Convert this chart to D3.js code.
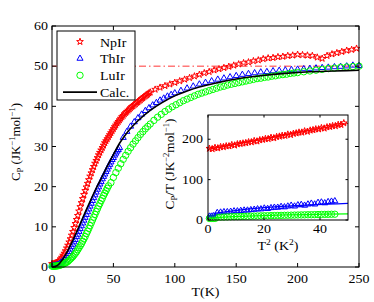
<!DOCTYPE html>
<html>
<head>
<meta charset="utf-8">
<script src="https://cdn.jsdelivr.net/npm/d3@7"></script>
<style>
  body { margin: 0; background: #fff; }
  svg text { font-family: "Liberation Serif", "DejaVu Serif", serif; font-size: 12.5px; fill: #000; }
</style>
</head>
<body>
<svg id="chart" width="374" height="302"></svg>
<script>
// ---------- data ----------

// NpIr, main plot : dense low-T part then sparse stars
let npirT  = [0,1,2,3,4,5,6,7,8,9,10,11,12,13,14,15,16,17,18,19,20,21,22,23,24,25,26,27,28,29,30,31,32,33,34,35,36,37,38,39,40,
              41,42,43,44,45,46,47,48,49,50,51,52,53,54,55,56,57,58,59,60,61,62,63,64,65,66,67,68,69,70,71,72,73,74,75,76,77,78,79,80,
              84,88,92,96,100,104,108,112,116,120,124,128,132,136,140,144,148,152,156,160,164,168,172,176,180,184,188,192,196,200,204,208,212,216,220,224,228,232,236,240,244,248];
let npirCp = [0.8,0.8,0.9,1.0,1.1,1.3,1.6,2.0,2.4,2.9,3.4,4.0,4.7,5.4,6.2,7.0,7.9,8.8,9.8,10.8,11.8,12.8,13.9,15.0,16.0,17.0,18.0,19.0,19.9,20.8,21.7,22.6,23.4,24.2,25.0,25.8,26.5,27.2,27.9,28.5,29.1,
              29.7,30.3,30.9,31.4,31.9,32.4,32.9,33.4,33.9,34.4,34.9,35.3,35.8,36.2,36.6,37.0,37.4,37.7,38.1,38.4,38.7,39.0,39.3,39.6,39.9,40.1,40.4,40.6,40.9,41.1,41.4,41.6,41.9,42.1,42.4,42.6,42.8,43.0,43.3,43.5,
              44.2,44.7,45.1,45.5,45.9,46.3,46.7,47.1,47.5,47.9,48.3,48.6,49.0,49.3,49.6,49.9,50.2,50.5,50.8,51.0,51.3,51.5,51.8,52.0,52.1,52.3,52.4,52.6,52.7,52.9,52.8,52.7,52.6,52.2,51.9,52.6,53.0,53.3,53.6,53.9,54.1,54.4];

// ThIr, main plot
let thirT  = [0,1,2,3,4,5,6,7,8,9,10,11,12,13,14,15,16,17,18,19,20,21,22,23,24,25,26,27,28,29,30,31,32,33,34,35,36,37,38,39,40,
              41,42,43,44,45,46,47,48,49,50,51,52,53,54,55,
              58,61,64,67,70,73,76,79,82,85,88,91,94,97,100,105,110,115,120,125,130,135,140,145,150,155,160,165,170,175,180,185,190,195,200,205,210,215,220,225,230,235,240,245,250];
let thirCp = [0.3,0.3,0.4,0.4,0.5,0.6,0.8,1.0,1.2,1.5,1.9,2.3,2.8,3.3,3.8,4.4,5.0,5.6,6.2,6.8,7.5,8.1,8.8,9.5,10.2,10.9,11.6,12.3,13.0,13.7,14.4,15.1,15.8,16.5,17.2,17.9,18.6,19.3,19.9,20.6,21.2,
              21.9,22.5,23.1,23.7,24.3,24.9,25.5,26.1,26.7,27.2,27.8,28.3,28.8,29.2,29.7,
              32.2,33.7,35.0,36.1,37.1,38.0,38.9,39.6,40.3,40.9,41.5,42.0,42.5,42.9,43.3,43.9,44.5,45.0,45.5,45.9,46.3,46.7,47.0,47.3,47.6,47.9,48.1,48.3,48.5,48.6,48.8,48.9,49.0,49.1,49.2,49.3,49.4,49.5,49.6,49.7,49.8,49.9,50.0,50.2,50.1];

// LuIr, main plot
let luirT  = [0,1,2,3,4,5,6,7,8,9,10,11,12,13,14,15,16,17,18,19,20,21,22,23,24,25,26,27,28,29,30,31,32,33,34,35,36,37,38,39,40,41,42,43,44,45,46,
              48,50,52,54,56,58,60,62,64,66,68,70,72,74,76,78,80,83,86,89,92,95,98,101,104,107,110,113,116,119,122,125,128,131,134,137,140,143,146,149,152,155,158,161,164,167,170,173,176,179,182,185,188,191,194,197,200,205,210,215,220,225,230,235,240,245,250];
let luirCp = [0.2,0.2,0.2,0.2,0.3,0.3,0.4,0.5,0.6,0.7,0.9,1.0,1.2,1.4,1.7,2.0,2.3,2.6,3.0,3.4,3.8,4.3,4.8,5.3,5.8,6.4,7.0,7.6,8.3,8.9,9.6,10.3,11.0,11.7,12.4,13.1,13.8,14.5,15.2,15.8,16.5,17.1,17.8,18.4,19.0,19.6,20.2,
              21.0,22.3,23.5,24.6,25.7,26.8,27.8,28.8,29.7,30.6,31.4,32.2,33.0,33.7,34.4,35.0,35.6,36.5,37.3,38.0,38.7,39.3,39.9,40.4,40.9,41.4,41.8,42.2,42.6,43.0,43.3,43.6,43.9,44.2,44.5,44.8,45.0,45.3,45.5,45.7,45.9,46.1,46.3,46.5,46.7,46.9,47.0,47.2,47.3,47.5,47.6,47.8,47.9,48.0,48.2,48.3,48.4,48.6,48.8,49.0,49.2,49.4,49.5,49.7,49.8,49.9,50.0];

// calculated curve
let calcT  = [0,4,8,12,16,20,24,28,32,36,40,45,50,55,60,70,80,90,100,110,120,135,150,170,190,210,230,250];
let calcCp = [0,0.3,1.6,3.6,6.0,8.7,11.5,14.3,17.0,19.6,22.0,25.1,28.0,30.8,33.0,36.4,39.0,41.0,42.6,43.8,44.8,45.9,46.8,47.6,48.2,48.6,48.8,49.0];

// Dulong-Petit level
let dulongPetit = 50;

// inset : Cp/T vs T^2
let insNpT2 = [0.5,1.5,2.5,3.5,4.5,5.5,6.5,7.5,8.5,9.5,10.5,11.5,12.5,13.5,14.5,15.5,16.5,17.5,18.5,19.5,20.5,21.5,22.5,23.5,24.5,
               25.5,26.5,27.5,28.5,29.5,30.5,31.5,32.5,33.5,34.5,35.5,36.5,37.5,38.5,39.5,40.5,41.5,42.5,43.5,44.5,45.5,46.5,47.5,48.5];
let insNpC  = [177,176,179,178,181,181,183,183,186,185,188,189,190,191,193,193,196,195,198,199,201,201,204,203,206,
               207,209,209,212,211,214,215,217,217,220,219,222,223,225,225,228,227,230,231,233,233,236,236,240];
let insThT2 = [0.5,1.2,1.9,2.6,3.3,4.5,5.7,6.9,8.1,9.3,10.5,11.7,12.9,14.1,15.3,16.5,17.7,18.9,20.1,21.3,22.5,23.7,24.9,26.1,27.3,28.5,29.7,30.9,32.1,33.3,34.5,35.7,36.9,38.1,39.3,40.5,41.7,42.9,44.1,45.3];
let insThC  = [9,9,10,10,18,19,20,20,21,22,22,23,24,24,25,26,27,27,29,28,30,31,31,33,32,34,36,34,37,38,36,39,41,39,43,44,42,45,46,47];
let insLuT2 = [0.5,1.2,1.9,2.6,3.3,4.5,5.7,6.9,8.1,9.3,10.5,11.7,12.9,14.1,15.3,16.5,17.7,18.9,20.1,21.3,22.5,23.7,24.9,26.1,27.3,28.5,29.7,30.9,32.1,33.3,34.5,35.7,36.9,38.1,39.3,40.5,41.7,42.9,44.1,45.3];
let insLuC  = [4,4,4,4,7,7.2,7.4,7.7,8,8.2,8.5,8.7,9,9.2,9.5,9.7,10,10.2,10.4,10.6,10.8,11,11.2,11.4,11.6,11.8,12,12.2,12.4,12.6,12.8,13,13.1,13.3,13.5,13.7,13.9,14,14.2,14.3];

// inset fit lines
let fitNpT2 = [0, 50];
let fitNpC  = [175, 239];
let fitThT2 = [0, 2.5, 2.8, 50];
let fitThC  = [10, 10, 17, 41];
let fitLuT2 = [0, 2.5, 2.8, 50];
let fitLuC  = [4, 4, 6, 15];

// ticks
let xTicks = [0, 50, 100, 150, 200, 250];
let yTicks = [0, 10, 20, 30, 40, 50, 60];
let insXTicks = [0, 20, 40];
let insYTicks = [0, 100, 200];

let legendLabels = ["NpIr", "ThIr", "LuIr", "Calc."];

// ---------- drawing ----------
let RED = "#ff0000", BLUE = "#0000ff", GREEN = "#00ff00";
let STRETCH = 1.12; // horizontal text looks a bit wider than the font

let svg = d3.select("#chart");

// main axes
let x = d3.scaleLinear().domain([0, 250]).range([52, 359]);
let y = d3.scaleLinear().domain([0, 60]).range([267, 26]);

// inset axes
let xi = d3.scaleLinear().domain([0, 50]).range([208, 348]);
let yi = d3.scaleLinear().domain([0, 260]).range([220, 115]);

function zipPts(a, b){ return a.map((v, i) => [v, b[i]]); }

let starSym = d3.symbol().type(d3.symbolStar).size(14);
let triSym  = d3.symbol().type(d3.symbolTriangle).size(16);
let circSym = d3.symbol().type(d3.symbolCircle).size(32);

function drawMarkers(g, pts, sx, sy, sym, color){
  g.append("g").selectAll("path")
    .data(pts)
    .join("path")
    .attr("d", sym)
    .attr("transform", d => `translate(${sx(d[0])},${sy(d[1])})`)
    .attr("fill", "none")
    .attr("stroke", color)
    .attr("stroke-width", 1);
}

function drawLine(g, pts, sx, sy, color, w){
  g.append("path")
    .datum(pts)
    .attr("d", d3.line().x(d => sx(d[0])).y(d => sy(d[1])).curve(d3.curveMonotoneX))
    .attr("fill", "none")
    .attr("stroke", color)
    .attr("stroke-width", w);
}

// horizontal text, slightly stretched
function hText(parent, px, py, anchor){
  return parent.append("text")
    .attr("transform", `translate(${px},${py}) scale(${STRETCH},1)`)
    .attr("text-anchor", anchor);
}

function drawBox(sx, sy, xt, yt, tick){
  let [x0, x1] = sx.range();
  let [y0, y1] = sy.range();
  let g = svg.append("g");
  g.append("rect")
    .attr("x", x0).attr("y", y1)
    .attr("width", x1 - x0).attr("height", y0 - y1)
    .attr("fill", "none").attr("stroke", "#000").attr("stroke-width", 1);
  xt.forEach(t => {
    g.append("line").attr("x1", sx(t)).attr("x2", sx(t)).attr("y1", y0).attr("y2", y0 - tick).attr("stroke", "#000");
    g.append("line").attr("x1", sx(t)).attr("x2", sx(t)).attr("y1", y1).attr("y2", y1 + tick).attr("stroke", "#000");
  });
  yt.forEach(t => {
    g.append("line").attr("x1", x0).attr("x2", x0 + tick).attr("y1", sy(t)).attr("y2", sy(t)).attr("stroke", "#000");
    g.append("line").attr("x1", x1).attr("x2", x1 - tick).attr("y1", sy(t)).attr("y2", sy(t)).attr("stroke", "#000");
  });
  return g;
}

// main plot content
let main = svg.append("g");

main.append("line")
  .attr("x1", x(0)).attr("x2", x(250))
  .attr("y1", y(dulongPetit)).attr("y2", y(dulongPetit))
  .attr("stroke", RED).attr("stroke-width", 0.8)
  .attr("stroke-dasharray", "7,3,1.5,3");

drawMarkers(main, zipPts(npirT, npirCp), x, y, starSym, RED);
drawMarkers(main, zipPts(thirT, thirCp), x, y, triSym, BLUE);
drawMarkers(main, zipPts(luirT, luirCp), x, y, circSym, GREEN);
drawLine(main, zipPts(calcT, calcCp), x, y, "#000", 1.6);

let mainBox = drawBox(x, y, xTicks, yTicks, 4);

xTicks.forEach(t => hText(mainBox, x(t), 283, "middle").text(t));
yTicks.forEach(t => hText(mainBox, 48, y(t) + 4, "end").text(t));

hText(svg, 205.5, 296, "middle").text("T(K)");

let yl = svg.append("text")
  .attr("transform", "translate(20,142) rotate(-90)")
  .attr("text-anchor", "middle")
  .style("font-size", "13px");
yl.append("tspan").text("C");
yl.append("tspan").attr("font-size", "8.5px").attr("dy", 3).text("P");
yl.append("tspan").attr("dy", -3).text(" (JK");
yl.append("tspan").attr("font-size", "8.5px").attr("dy", -5).text("\u22121");
yl.append("tspan").attr("dy", 5).text("mol");
yl.append("tspan").attr("font-size", "8.5px").attr("dy", -5).text("\u22121");
yl.append("tspan").attr("dy", 5).text(")");

// legend
let leg = svg.append("g");
leg.append("rect")
  .attr("x", 57).attr("y", 31).attr("width", 78).attr("height", 69)
  .attr("fill", "#fff").attr("stroke", "#000").attr("stroke-width", 1);

let legSyms = [starSym, triSym, circSym, null];
let legColors = [RED, BLUE, GREEN, "#000"];
legendLabels.forEach((lab, i) => {
  let cy = 41.7 + i * 16.8;
  if (legSyms[i]) {
    leg.append("path")
      .attr("d", legSyms[i])
      .attr("transform", `translate(80,${cy})`)
      .attr("fill", "none").attr("stroke", legColors[i]).attr("stroke-width", 1);
  } else {
    leg.append("line")
      .attr("x1", 63).attr("x2", 97).attr("y1", cy).attr("y2", cy)
      .attr("stroke", "#000").attr("stroke-width", 1.6);
  }
  hText(leg, 100, cy + 4.8, "start").text(lab);
});

// inset
let inset = svg.append("g");
inset.append("rect")
  .attr("x", 208).attr("y", 115).attr("width", 140).attr("height", 105)
  .attr("fill", "#fff");

drawMarkers(inset, zipPts(insNpT2, insNpC), xi, yi, starSym, RED);
drawMarkers(inset, zipPts(insThT2, insThC), xi, yi, triSym, BLUE);
drawMarkers(inset, zipPts(insLuT2, insLuC), xi, yi, circSym, GREEN);
drawLine(inset, zipPts(fitNpT2, fitNpC), xi, yi, RED, 1.2);
drawLine(inset, zipPts(fitThT2, fitThC), xi, yi, BLUE, 1.2);
drawLine(inset, zipPts(fitLuT2, fitLuC), xi, yi, GREEN, 1.2);

let insBox = drawBox(xi, yi, insXTicks, insYTicks, 2.5);

insXTicks.forEach(t => hText(insBox, xi(t), 233, "middle").text(t));
insYTicks.forEach(t => hText(insBox, 203, yi(t) + 4, "end").text(t));

let ixl = hText(svg, 278, 250, "middle");
ixl.append("tspan").text("T");
ixl.append("tspan").attr("font-size", "8.5px").attr("dy", -5).text("2");
ixl.append("tspan").attr("dy", 5).text(" (K");
ixl.append("tspan").attr("font-size", "8.5px").attr("dy", -5).text("2");
ixl.append("tspan").attr("dy", 5).text(")");

let iyl = svg.append("text")
  .attr("transform", "translate(174,164) rotate(-90)")
  .attr("text-anchor", "middle")
  .style("font-size", "13.3px");
iyl.append("tspan").text("C");
iyl.append("tspan").attr("font-size", "8.5px").attr("dy", 3).text("P");
iyl.append("tspan").attr("dy", -3).text("/T (JK");
iyl.append("tspan").attr("font-size", "8.5px").attr("dy", -5).text("\u22122");
iyl.append("tspan").attr("dy", 5).text("mol");
iyl.append("tspan").attr("font-size", "8.5px").attr("dy", -5).text("\u22121");
iyl.append("tspan").attr("dy", 5).text(")");
</script>
</body>
</html>
